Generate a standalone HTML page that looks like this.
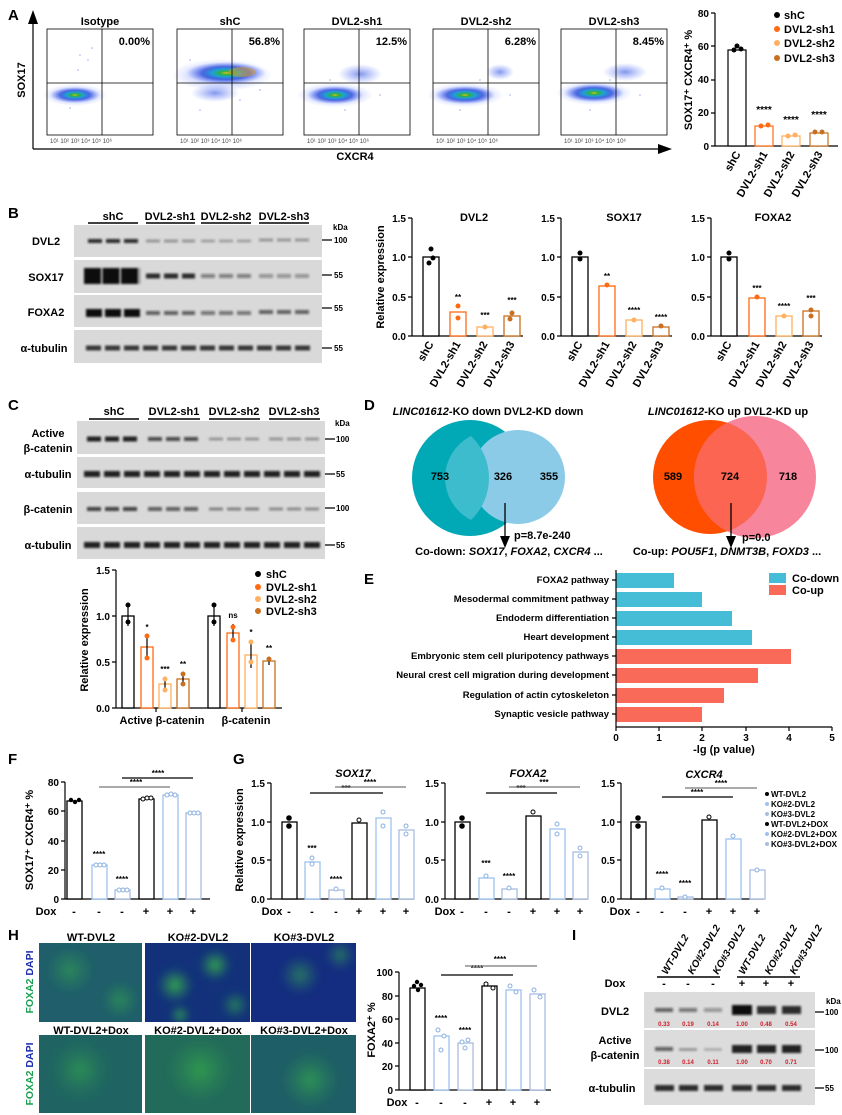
<!DOCTYPE html>
<html><head><meta charset="utf-8"><style>
body{margin:0;background:#fff}
svg{display:block;font-family:"Liberation Sans",sans-serif;font-weight:bold}
.s{font-size:10px}.m{font-size:11px}.xs{font-size:6px;font-weight:normal}.l{font-size:15px}
.ax{stroke:#000;stroke-width:1.2;fill:none}
</style></head><body>
<svg width="842" height="1115" viewBox="0 0 842 1115" xmlns="http://www.w3.org/2000/svg">
<defs>
<radialGradient id="fl"><stop offset="0" stop-color="#e0c020"/><stop offset=".15" stop-color="#30b040"/><stop offset=".35" stop-color="#1ea0d8"/><stop offset=".6" stop-color="#2848d8" stop-opacity=".75"/><stop offset="1" stop-color="#5070ff" stop-opacity="0"/></radialGradient>
<radialGradient id="fb"><stop offset="0" stop-color="#3050e0" stop-opacity=".6"/><stop offset="1" stop-color="#5070ff" stop-opacity="0"/></radialGradient>
<radialGradient id="gr"><stop offset="0" stop-color="#40d040" stop-opacity=".8"/><stop offset="1" stop-color="#30a050" stop-opacity="0"/></radialGradient>
<filter id="bl"><feGaussianBlur stdDeviation="1.1"/></filter>
<filter id="bl3"><feGaussianBlur stdDeviation="4"/></filter>
</defs>

<!-- ===== A ===== -->
<text x="8" y="20" class="l">A</text>
<line x1="33" y1="149" x2="33" y2="18" class="ax" stroke-width="1.5"/>
<polygon points="33,10 28,24 38,24"/>
<line x1="33" y1="149" x2="662" y2="149" class="ax" stroke-width="1.5"/>
<polygon points="672,149 658,144 658,154"/>
<text x="25" y="80" class="m" transform="rotate(-90 25 80)" text-anchor="middle">SOX17</text>
<text x="355" y="160" class="m" text-anchor="middle">CXCR4</text>

<g class="m" text-anchor="middle">
<text x="100" y="25">Isotype</text><text x="230" y="25">shC</text><text x="357" y="25">DVL2-sh1</text><text x="486" y="25">DVL2-sh2</text><text x="614" y="25">DVL2-sh3</text>
</g>
<g>
<ellipse cx="75" cy="95" rx="32" ry="11" fill="url(#fb)"/>
<ellipse cx="75" cy="95" rx="25" ry="8" fill="url(#fl)"/>
<ellipse cx="222" cy="75" rx="50" ry="16" fill="url(#fb)"/>
<ellipse cx="226" cy="73" rx="40" ry="11" fill="url(#fl)"/><ellipse cx="242" cy="72" rx="14" ry="5" fill="#e0a020" opacity=".5"/><ellipse cx="215" cy="93" rx="24" ry="9" fill="url(#fb)"/>
<ellipse cx="335" cy="95" rx="38" ry="12" fill="url(#fb)"/><ellipse cx="335" cy="95" rx="28" ry="9" fill="url(#fl)"/><ellipse cx="360" cy="74" rx="22" ry="10" fill="url(#fb)"/>
<ellipse cx="465" cy="95" rx="38" ry="12" fill="url(#fb)"/><ellipse cx="465" cy="95" rx="30" ry="9" fill="url(#fl)"/><ellipse cx="500" cy="72" rx="14" ry="8" fill="url(#fb)"/>
<ellipse cx="594" cy="93" rx="38" ry="12" fill="url(#fb)"/><ellipse cx="594" cy="93" rx="30" ry="9" fill="url(#fl)"/><ellipse cx="625" cy="72" rx="22" ry="9" fill="url(#fb)"/>
</g>
<g fill="#4060e0" opacity=".5">
<circle cx="80" cy="55" r=".8"/><circle cx="88" cy="60" r=".8"/><circle cx="92" cy="48" r=".8"/><circle cx="78" cy="70" r=".8"/><circle cx="70" cy="108" r=".8"/>
<circle cx="200" cy="110" r=".8"/><circle cx="240" cy="100" r=".8"/><circle cx="190" cy="60" r=".8"/><circle cx="260" cy="90" r=".8"/>
<circle cx="330" cy="80" r=".8"/><circle cx="345" cy="110" r=".8"/><circle cx="380" cy="95" r=".8"/>
<circle cx="460" cy="110" r=".8"/><circle cx="480" cy="80" r=".8"/><circle cx="510" cy="95" r=".8"/>
<circle cx="590" cy="110" r=".8"/><circle cx="610" cy="80" r=".8"/><circle cx="640" cy="95" r=".8"/>
</g>
<g fill="none" stroke="#000" stroke-width=".8">
<rect x="47" y="29" width="106" height="106"/><rect x="177" y="29" width="106" height="106"/><rect x="304" y="29" width="106" height="106"/><rect x="433" y="29" width="106" height="106"/><rect x="561" y="29" width="106" height="106"/>
<path d="M102,29V135M47,83H153M232,29V135M177,83H283M359,29V135M304,83H410M488,29V135M433,83H539M616,29V135M561,83H667"/>
</g>
<g class="m" text-anchor="end">
<text x="150" y="45">0.00%</text><text x="280" y="45">56.8%</text><text x="407" y="45">12.5%</text><text x="536" y="45">6.28%</text><text x="664" y="45">8.45%</text>
</g>
<g class="xs" fill="#444">
<text x="50" y="143">10¹ 10² 10³ 10⁴ 10⁵ 10⁶</text><text x="180" y="143">10¹ 10² 10³ 10⁴ 10⁵ 10⁶</text><text x="307" y="143">10¹ 10² 10³ 10⁴ 10⁵ 10⁶</text><text x="436" y="143">10¹ 10² 10³ 10⁴ 10⁵ 10⁶</text><text x="564" y="143">10¹ 10² 10³ 10⁴ 10⁵ 10⁶</text>
</g>
<path d="M715,13V146H838M711,13H715M711,46H715M711,80H715M711,113H715M711,146H715" class="ax"/>
<g class="s" text-anchor="end"><text x="709" y="17">80</text><text x="709" y="50">60</text><text x="709" y="83">40</text><text x="709" y="116">20</text><text x="709" y="150">0</text></g>
<text x="692" y="80" class="m" transform="rotate(-90 692 80)" text-anchor="middle">SOX17⁺ CXCR4⁺ %</text>
<rect x="728" y="50" width="18" height="96" fill="#fff" stroke="#000" stroke-width="1.2"/>
<rect x="755" y="126" width="18" height="20" fill="#fff" stroke="#ff6a13" stroke-width="1.2"/>
<rect x="782" y="136" width="18" height="10" fill="#fff" stroke="#ffb060" stroke-width="1.2"/>
<rect x="810" y="133" width="18" height="13" fill="#fff" stroke="#c87020" stroke-width="1.2"/>
<g><circle cx="734" cy="50" r="2.5"/><circle cx="741" cy="49" r="2.5"/><circle cx="737" cy="46" r="2.5"/>
<circle cx="761" cy="126" r="2.5" fill="#ff6a13"/><circle cx="768" cy="125" r="2.5" fill="#ff6a13"/>
<circle cx="788" cy="136" r="2.5" fill="#ffb060"/><circle cx="795" cy="135" r="2.5" fill="#ffb060"/>
<circle cx="815" cy="132" r="2.5" fill="#c87020"/><circle cx="822" cy="132" r="2.5" fill="#c87020"/></g>
<g class="s" text-anchor="middle"><text x="764" y="113">****</text><text x="791" y="123">****</text><text x="819" y="118">****</text></g>
<g class="m" text-anchor="end">
<text transform="translate(741,154) rotate(-60)">shC</text><text transform="translate(768,154) rotate(-60)">DVL2-sh1</text><text transform="translate(795,154) rotate(-60)">DVL2-sh2</text><text transform="translate(823,154) rotate(-60)">DVL2-sh3</text>
</g>
<g class="m"><circle cx="777" cy="15" r="3"/><text x="784" y="19">shC</text>
<circle cx="777" cy="29" r="3" fill="#ff6a13"/><text x="784" y="33">DVL2-sh1</text>
<circle cx="777" cy="43" r="3" fill="#ffb060"/><text x="784" y="47">DVL2-sh2</text>
<circle cx="777" cy="58" r="3" fill="#c87020"/><text x="784" y="62">DVL2-sh3</text></g>

<!-- ===== B ===== -->
<text x="8" y="218" class="l">B</text>
<g class="m" text-anchor="middle"><text x="113" y="220">shC</text><text x="170" y="220">DVL2-sh1</text><text x="226" y="220">DVL2-sh2</text><text x="284" y="220">DVL2-sh3</text></g>
<path d="M88,223H138M146,223H195M201,223H251M259,223H309" stroke="#000" stroke-width="1.5"/>
<g fill="#d9d9d9"><rect x="74" y="225" width="248" height="32"/><rect x="74" y="260" width="248" height="33"/><rect x="74" y="295" width="248" height="32"/><rect x="74" y="330" width="248" height="33"/></g>
<g filter="url(#bl)" stroke="#111" fill="none" stroke-dasharray="14 4">
<path d="M88,241H138" stroke-width="4" opacity=".85"/><path d="M146,241H195" stroke-width="3" opacity=".35"/><path d="M201,241H251" stroke-width="3" opacity=".25"/><path d="M259,240H309" stroke-width="3" opacity=".35"/>
<path d="M84,276H140" stroke-width="16" stroke-dasharray="17 1.5"/><path d="M146,276H195" stroke-width="5" opacity=".85"/><path d="M201,276H251" stroke-width="4" opacity=".45"/><path d="M259,276H309" stroke-width="4" opacity=".35"/>
<path d="M86,313H140" stroke-width="8" stroke-dasharray="16 3"/><path d="M146,313H195" stroke-width="4" opacity=".6"/><path d="M201,313H251" stroke-width="4" opacity=".5"/><path d="M259,312H309" stroke-width="4" opacity=".6"/>
<path d="M86,348H312" stroke-width="5" opacity=".8" stroke-dasharray="15 4"/>
</g>
<g class="m" text-anchor="middle"><text x="46" y="245">DVL2</text><text x="46" y="281">SOX17</text><text x="46" y="316">FOXA2</text><text x="44" y="352">α-tubulin</text></g>
<g class="xs" style="font-size:8px;font-weight:bold"><text x="333" y="230">kDa</text><path d="M322,240H332M322,275H332M322,308H332M322,348H332" stroke="#000" stroke-width="1.3"/>
<text x="334" y="243">100</text><text x="334" y="278">55</text><text x="334" y="311">55</text><text x="334" y="351">55</text></g>
<text x="384" y="277" class="m" transform="rotate(-90 384 277)" text-anchor="middle">Relative expression</text>
<g class="ax"><path d="M412,218V336H523M408,218H412M408,257H412M408,297H412M408,336H412"/><path d="M561,218V336H672M557,218H561M557,257H561M557,297H561M557,336H561"/><path d="M711,218V336H822M707,218H711M707,257H711M707,297H711M707,336H711"/></g>
<g class="s" text-anchor="end">
<text x="406" y="222">1.5</text><text x="406" y="261">1.0</text><text x="406" y="301">0.5</text><text x="406" y="340">0.0</text>
<text x="555" y="222">1.5</text><text x="555" y="261">1.0</text><text x="555" y="301">0.5</text><text x="555" y="340">0.0</text>
<text x="705" y="222">1.5</text><text x="705" y="261">1.0</text><text x="705" y="301">0.5</text><text x="705" y="340">0.0</text>
</g>
<g class="m" text-anchor="middle"><text x="474" y="221">DVL2</text><text x="624" y="221">SOX17</text><text x="773" y="221">FOXA2</text></g>
<g fill="#fff" stroke-width="1.3">
<rect x="423" y="257" width="16" height="79" stroke="#000"/><rect x="450" y="312" width="16" height="24" stroke="#ff6a13"/><rect x="477" y="327" width="16" height="9" stroke="#ffb060"/><rect x="504" y="316" width="16" height="20" stroke="#c87020"/>
<rect x="572" y="257" width="16" height="79" stroke="#000"/><rect x="599" y="286" width="16" height="50" stroke="#ff6a13"/><rect x="626" y="320" width="16" height="16" stroke="#ffb060"/><rect x="653" y="327" width="16" height="9" stroke="#c87020"/>
<rect x="721" y="257" width="16" height="79" stroke="#000"/><rect x="749" y="298" width="16" height="38" stroke="#ff6a13"/><rect x="776" y="316" width="16" height="20" stroke="#ffb060"/><rect x="803" y="311" width="16" height="25" stroke="#c87020"/>
</g>
<g>
<circle cx="431" cy="249" r="2.5"/><circle cx="429" cy="263" r="2.5"/><circle cx="433" cy="258" r="2.5"/>
<circle cx="458" cy="306" r="2.5" fill="#ff6a13"/><circle cx="458" cy="318" r="2.5" fill="#ff6a13"/><circle cx="485" cy="327" r="2.5" fill="#ffb060"/><circle cx="512" cy="313" r="2.5" fill="#c87020"/><circle cx="510" cy="319" r="2.5" fill="#c87020"/>
<circle cx="580" cy="253" r="2.5"/><circle cx="580" cy="259" r="2.5"/><circle cx="607" cy="285" r="2.5" fill="#ff6a13"/><circle cx="634" cy="320" r="2.5" fill="#ffb060"/><circle cx="661" cy="326" r="2.5" fill="#c87020"/>
<circle cx="729" cy="253" r="2.5"/><circle cx="729" cy="259" r="2.5"/><circle cx="757" cy="297" r="2.5" fill="#ff6a13"/><circle cx="784" cy="316" r="2.5" fill="#ffb060"/><circle cx="811" cy="310" r="2.5" fill="#c87020"/><circle cx="811" cy="316" r="2.5" fill="#c87020"/>
</g>
<g style="font-size:8px" text-anchor="middle">
<text x="458" y="300">**</text><text x="485" y="318">***</text><text x="512" y="303">***</text>
<text x="607" y="279">**</text><text x="634" y="313">****</text><text x="661" y="320">****</text>
<text x="757" y="291">***</text><text x="784" y="309">****</text><text x="811" y="301">***</text>
</g>
<g class="m" text-anchor="end">
<text transform="translate(434,344) rotate(-60)">shC</text><text transform="translate(461,344) rotate(-60)">DVL2-sh1</text><text transform="translate(488,344) rotate(-60)">DVL2-sh2</text><text transform="translate(515,344) rotate(-60)">DVL2-sh3</text>
<text transform="translate(583,344) rotate(-60)">shC</text><text transform="translate(610,344) rotate(-60)">DVL2-sh1</text><text transform="translate(637,344) rotate(-60)">DVL2-sh2</text><text transform="translate(664,344) rotate(-60)">DVL2-sh3</text>
<text transform="translate(732,344) rotate(-60)">shC</text><text transform="translate(760,344) rotate(-60)">DVL2-sh1</text><text transform="translate(787,344) rotate(-60)">DVL2-sh2</text><text transform="translate(814,344) rotate(-60)">DVL2-sh3</text>
</g>

<!-- ===== C ===== -->
<text x="8" y="410" class="l">C</text>
<g class="m" text-anchor="middle"><text x="114" y="415">shC</text><text x="174" y="415">DVL2-sh1</text><text x="234" y="415">DVL2-sh2</text><text x="294" y="415">DVL2-sh3</text></g>
<path d="M89,419H139M148,419H200M209,419H260M269,419H320" stroke="#000" stroke-width="1.5"/>
<g fill="#d9d9d9"><rect x="77" y="421" width="248" height="33"/><rect x="77" y="457" width="248" height="31"/><rect x="77" y="492" width="248" height="32"/><rect x="77" y="527" width="248" height="32"/></g>
<g filter="url(#bl)" stroke="#111" fill="none" stroke-dasharray="14 4">
<path d="M87,439H139" stroke-width="5" opacity=".9"/><path d="M148,439H200" stroke-width="4" opacity=".7"/><path d="M209,439H260" stroke-width="3" opacity=".3"/><path d="M269,439H320" stroke-width="3" opacity=".35"/>
<path d="M84,474H323" stroke-width="6" opacity=".9" stroke-dasharray="16 4"/>
<path d="M87,509H139" stroke-width="4" opacity=".75"/><path d="M148,509H200" stroke-width="4" opacity=".6"/><path d="M209,509H260" stroke-width="3" opacity=".45"/><path d="M269,509H320" stroke-width="3" opacity=".4"/>
<path d="M84,545H323" stroke-width="6" opacity=".9" stroke-dasharray="16 4"/>
</g>
<g class="m" text-anchor="middle"><text x="48" y="437">Active</text><text x="48" y="452">β-catenin</text><text x="48" y="478">α-tubulin</text><text x="48" y="513">β-catenin</text><text x="48" y="549">α-tubulin</text></g>
<g style="font-size:8px"><text x="335" y="426">kDa</text><path d="M325,439H335M325,474H335M325,508H335M325,545H335" stroke="#000" stroke-width="1.3"/>
<text x="336" y="442">100</text><text x="336" y="477">55</text><text x="336" y="511">100</text><text x="336" y="548">55</text></g>
<path d="M116,570V708H282M112,570H116M112,616H116M112,662H116M112,708H116M156,708V712M242,708V712" class="ax"/>
<g class="s" text-anchor="end"><text x="110" y="574">1.5</text><text x="110" y="620">1.0</text><text x="110" y="666">0.5</text><text x="110" y="712">0.0</text></g>
<text x="88" y="640" class="m" transform="rotate(-90 88 640)" text-anchor="middle">Relative expression</text>
<g fill="#fff" stroke-width="1.3">
<rect x="122" y="616" width="12" height="92" stroke="#000"/><rect x="141" y="647" width="12" height="61" stroke="#ff6a13"/><rect x="159" y="684" width="12" height="24" stroke="#ffb060"/><rect x="177" y="679" width="12" height="29" stroke="#c87020"/>
<rect x="208" y="616" width="12" height="92" stroke="#000"/><rect x="227" y="633" width="12" height="75" stroke="#ff6a13"/><rect x="245" y="655" width="12" height="53" stroke="#ffb060"/><rect x="263" y="661" width="12" height="47" stroke="#c87020"/>
</g>
<g stroke-width="1.2" fill="none">
<path d="M128,605V626M147,635V659M165,678V690M183,672V686M214,605V626M233,624V642M251,641V668M269,657V665" stroke="#000"/>
</g>
<g>
<circle cx="128" cy="605" r="2.5"/><circle cx="128" cy="622" r="2.5"/><circle cx="147" cy="636" r="2.5" fill="#ff6a13"/><circle cx="147" cy="658" r="2.5" fill="#ff6a13"/><circle cx="165" cy="679" r="2.5" fill="#ffb060"/><circle cx="165" cy="690" r="2.5" fill="#ffb060"/><circle cx="183" cy="674" r="2.5" fill="#c87020"/><circle cx="183" cy="684" r="2.5" fill="#c87020"/>
<circle cx="214" cy="605" r="2.5"/><circle cx="214" cy="622" r="2.5"/><circle cx="233" cy="627" r="2.5" fill="#ff6a13"/><circle cx="233" cy="640" r="2.5" fill="#ff6a13"/><circle cx="251" cy="642" r="2.5" fill="#ffb060"/><circle cx="251" cy="662" r="2.5" fill="#ffb060"/><circle cx="269" cy="659" r="2.5" fill="#c87020"/>
</g>
<g style="font-size:8px" text-anchor="middle"><text x="147" y="630">*</text><text x="165" y="672">***</text><text x="183" y="667">**</text><text x="233" y="618">ns</text><text x="251" y="635">*</text><text x="269" y="651">**</text></g>
<g class="m" text-anchor="middle"><text x="162" y="724">Active β-catenin</text><text x="246" y="724">β-catenin</text></g>
<g class="m"><circle cx="258" cy="574" r="3"/><text x="266" y="578">shC</text>
<circle cx="258" cy="587" r="3" fill="#ff6a13"/><text x="266" y="591">DVL2-sh1</text>
<circle cx="258" cy="599" r="3" fill="#ffb060"/><text x="266" y="603">DVL2-sh2</text>
<circle cx="258" cy="611" r="3" fill="#c87020"/><text x="266" y="615">DVL2-sh3</text></g>

<!-- ===== D ===== -->
<text x="364" y="410" class="l">D</text>
<circle cx="470" cy="478" r="58" fill="#00a9b5"/>
<circle cx="518" cy="477" r="47" fill="#8ccbe8"/>
<path d="M471,436 A58,58 0 0 1 471,520 A47,47 0 0 1 471,436Z" fill="#3cbccd"/>
<g class="m" text-anchor="middle"><text x="440" y="480">753</text><text x="503" y="480">326</text><text x="549" y="480">355</text></g>
<text x="488" y="415" class="m" text-anchor="middle"><tspan font-style="italic">LINC01612</tspan>-KO down  DVL2-KD down</text>
<path d="M505,503V540" stroke="#000" stroke-width="1.3"/><polygon points="505,548 500,536 510,536"/>
<text x="514" y="539" class="m">p=8.7e-240</text>
<text x="509" y="555" class="m" text-anchor="middle">Co-down: <tspan font-style="italic">SOX17</tspan>, <tspan font-style="italic">FOXA2</tspan>, <tspan font-style="italic">CXCR4</tspan> ...</text>
<circle cx="710" cy="477" r="57" fill="#ff4e00"/>
<circle cx="755" cy="477" r="61" fill="#f7869c"/>
<clipPath id="cp"><circle cx="710" cy="477" r="57"/></clipPath>
<circle cx="755" cy="477" r="61" fill="#fb6552" clip-path="url(#cp)"/>
<g class="m" text-anchor="middle"><text x="673" y="480">589</text><text x="730" y="480">724</text><text x="788" y="480">718</text></g>
<text x="728" y="415" class="m" text-anchor="middle"><tspan font-style="italic">LINC01612</tspan>-KO up  DVL2-KD up</text>
<path d="M731,503V540" stroke="#000" stroke-width="1.3"/><polygon points="731,548 726,536 736,536"/>
<text x="742" y="541" class="m">p=0.0</text>
<text x="727" y="555" class="m" text-anchor="middle">Co-up: <tspan font-style="italic">POU5F1</tspan>, <tspan font-style="italic">DNMT3B</tspan>, <tspan font-style="italic">FOXD3</tspan> ...</text>

<!-- ===== E ===== -->
<text x="364" y="584" class="l">E</text>
<g fill="#45bdd6"><rect x="616" y="573" width="58" height="15"/><rect x="616" y="592" width="86" height="15"/><rect x="616" y="611" width="116" height="15"/><rect x="616" y="630" width="136" height="15"/></g>
<g fill="#f96a58"><rect x="616" y="649" width="175" height="15"/><rect x="616" y="668" width="142" height="15"/><rect x="616" y="688" width="108" height="15"/><rect x="616" y="707" width="86" height="15"/></g>
<path d="M616,570V727H832M616,727V731M659,727V731M702,727V731M746,727V731M789,727V731M832,727V731M612,580H616M612,599H616M612,618H616M612,637H616M612,656H616M612,675H616M612,695H616M612,714H616" class="ax"/>
<g class="s" text-anchor="middle"><text x="616" y="741">0</text><text x="659" y="741">1</text><text x="702" y="741">2</text><text x="746" y="741">3</text><text x="789" y="741">4</text><text x="832" y="741">5</text></g>
<text x="724" y="753" class="m" text-anchor="middle">-lg (p value)</text>
<g class="s" text-anchor="end" style="font-size:9.5px">
<text x="609" y="583">FOXA2 pathway</text><text x="609" y="602">Mesodermal commitment pathway</text><text x="609" y="621">Endoderm differentiation</text><text x="609" y="640">Heart development</text><text x="609" y="659">Embryonic stem cell pluripotency pathways</text><text x="609" y="678">Neural crest cell migration during development</text><text x="609" y="698">Regulation of actin cytoskeleton</text><text x="609" y="717">Synaptic vesicle pathway</text>
</g>
<rect x="769" y="573" width="17" height="10" fill="#45bdd6"/><rect x="769" y="585" width="17" height="10" fill="#f96a58"/>
<g class="m"><text x="792" y="582">Co-down</text><text x="792" y="594">Co-up</text></g>

<!-- ===== F ===== -->
<text x="8" y="764" class="l">F</text>
<path d="M65,782V899H210M61,782H65M61,811H65M61,841H65M61,870H65M61,899H65" class="ax"/>
<g class="s" text-anchor="end"><text x="59" y="786">80</text><text x="59" y="815">60</text><text x="59" y="845">40</text><text x="59" y="874">20</text><text x="59" y="903">0</text></g>
<text x="33" y="840" class="m" transform="rotate(-90 33 840)" text-anchor="middle">SOX17⁺ CXCR4⁺ %</text>
<g fill="#fff" stroke-width="1.3">
<rect x="67" y="801" width="15" height="98" stroke="#000"/><rect x="92" y="865" width="15" height="34" stroke="#9dc3ee"/><rect x="115" y="890" width="15" height="9" stroke="#a9bde0"/>
<rect x="139" y="799" width="15" height="100" stroke="#000"/><rect x="163" y="795" width="15" height="104" stroke="#9dc3ee"/><rect x="186" y="813" width="15" height="86" stroke="#a9bde0"/>
</g>
<g><circle cx="71" cy="800" r="2.2"/><circle cx="75" cy="802" r="2.2"/><circle cx="79" cy="800" r="2.2"/>
<g fill="#fff" stroke="#8ab0e0"><circle cx="96" cy="865" r="2"/><circle cx="100" cy="865" r="2"/><circle cx="104" cy="865" r="2"/><circle cx="119" cy="890" r="2"/><circle cx="123" cy="890" r="2"/><circle cx="127" cy="890" r="2"/><circle cx="143" cy="799" r="2" stroke="#000"/><circle cx="147" cy="798" r="2" stroke="#000"/><circle cx="151" cy="798" r="2" stroke="#000"/><circle cx="167" cy="795" r="2"/><circle cx="171" cy="794" r="2"/><circle cx="175" cy="795" r="2"/><circle cx="190" cy="813" r="2"/><circle cx="194" cy="813" r="2"/><circle cx="198" cy="813" r="2"/></g></g>
<g style="font-size:8px" text-anchor="middle"><text x="99" y="857">****</text><text x="122" y="882">****</text><text x="136" y="785">****</text><text x="158" y="776">****</text></g>
<path d="M99,787H170" stroke="#777" stroke-width="1.2"/><path d="M122,778H193" stroke="#000" stroke-width="1.2"/>
<g class="m" text-anchor="middle"><text x="46" y="915">Dox</text><text x="74" y="915">-</text><text x="99" y="915">-</text><text x="122" y="915">-</text><text x="146" y="915">+</text><text x="170" y="915">+</text><text x="193" y="915">+</text></g>

<!-- ===== G ===== -->
<text x="233" y="764" class="l">G</text>
<text x="243" y="840" class="m" transform="rotate(-90 243 840)" text-anchor="middle">Relative expression</text>
<g class="ax"><path d="M271,783V899H414M267,783H271M267,822H271M267,860H271M267,899H271"/><path d="M445,783V899H588M441,783H445M441,822H445M441,860H445M441,899H445"/><path d="M621,783V899H764M617,783H621M617,822H621M617,860H621M617,899H621"/></g>
<g class="s" text-anchor="end">
<text x="265" y="787">1.5</text><text x="265" y="826">1.0</text><text x="265" y="864">0.5</text><text x="265" y="903">0.0</text>
<text x="439" y="787">1.5</text><text x="439" y="826">1.0</text><text x="439" y="864">0.5</text><text x="439" y="903">0.0</text>
<text x="615" y="787">1.5</text><text x="615" y="826">1.0</text><text x="615" y="864">0.5</text><text x="615" y="903">0.0</text>
</g>
<g class="m" text-anchor="middle" font-style="italic"><text x="353" y="777">SOX17</text><text x="528" y="777">FOXA2</text><text x="704" y="778">CXCR4</text></g>
<g fill="#fff" stroke-width="1.3">
<rect x="282" y="822" width="15" height="77" stroke="#000"/><rect x="305" y="862" width="15" height="37" stroke="#9dc3ee"/><rect x="329" y="890" width="15" height="9" stroke="#a9bde0"/><rect x="352" y="823" width="15" height="76" stroke="#000"/><rect x="376" y="818" width="15" height="81" stroke="#9dc3ee"/><rect x="399" y="830" width="15" height="69" stroke="#a9bde0"/>
<rect x="455" y="822" width="15" height="77" stroke="#000"/><rect x="479" y="878" width="15" height="21" stroke="#9dc3ee"/><rect x="502" y="889" width="15" height="10" stroke="#a9bde0"/><rect x="526" y="816" width="15" height="83" stroke="#000"/><rect x="550" y="829" width="15" height="70" stroke="#9dc3ee"/><rect x="573" y="852" width="15" height="47" stroke="#a9bde0"/>
<rect x="631" y="822" width="15" height="77" stroke="#000"/><rect x="655" y="889" width="15" height="10" stroke="#9dc3ee"/><rect x="678" y="897" width="15" height="2" stroke="#a9bde0"/><rect x="702" y="820" width="15" height="79" stroke="#000"/><rect x="726" y="839" width="15" height="60" stroke="#9dc3ee"/><rect x="750" y="870" width="15" height="29" stroke="#a9bde0"/>
</g>
<g fill="#fff" stroke="#8ab0e0">
<circle cx="289" cy="818" r="2.3" fill="#000" stroke="#000"/><circle cx="289" cy="826" r="2.3" fill="#000" stroke="#000"/><circle cx="312" cy="858" r="2"/><circle cx="312" cy="864" r="2"/><circle cx="336" cy="889" r="2"/><circle cx="359" cy="820" r="2" stroke="#000"/><circle cx="383" cy="812" r="2"/><circle cx="383" cy="826" r="2"/><circle cx="406" cy="826" r="2"/><circle cx="406" cy="834" r="2"/>
<circle cx="462" cy="818" r="2.3" fill="#000" stroke="#000"/><circle cx="462" cy="826" r="2.3" fill="#000" stroke="#000"/><circle cx="486" cy="876" r="2"/><circle cx="509" cy="888" r="2"/><circle cx="533" cy="812" r="2" stroke="#000"/><circle cx="557" cy="824" r="2"/><circle cx="557" cy="834" r="2"/><circle cx="580" cy="848" r="2"/><circle cx="580" cy="856" r="2"/>
<circle cx="638" cy="818" r="2.3" fill="#000" stroke="#000"/><circle cx="638" cy="826" r="2.3" fill="#000" stroke="#000"/><circle cx="662" cy="888" r="2"/><circle cx="685" cy="897" r="2"/><circle cx="709" cy="817" r="2" stroke="#000"/><circle cx="733" cy="836" r="2"/><circle cx="757" cy="870" r="2"/>
</g>
<g style="font-size:8px" text-anchor="middle">
<text x="312" y="851">***</text><text x="336" y="882">****</text><text x="346" y="791">***</text><text x="370" y="785">****</text>
<text x="486" y="866">***</text><text x="509" y="879">****</text><text x="521" y="791">***</text><text x="544" y="785">***</text>
<text x="662" y="877">****</text><text x="685" y="886">****</text><text x="697" y="795">****</text><text x="721" y="786">****</text>
</g>
<g stroke-width="1.2"><path d="M310,793H383M486,793H557M662,797H733" stroke="#000"/><path d="M335,787H406M509,787H580M685,788H757" stroke="#777"/></g>
<g class="m" text-anchor="middle">
<text x="272" y="915">Dox</text><text x="289" y="915">-</text><text x="312" y="915">-</text><text x="336" y="915">-</text><text x="359" y="915">+</text><text x="383" y="915">+</text><text x="406" y="915">+</text>
<text x="445" y="915">Dox</text><text x="462" y="915">-</text><text x="486" y="915">-</text><text x="509" y="915">-</text><text x="533" y="915">+</text><text x="557" y="915">+</text><text x="580" y="915">+</text>
<text x="620" y="915">Dox</text><text x="638" y="915">-</text><text x="662" y="915">-</text><text x="685" y="915">-</text><text x="709" y="915">+</text><text x="733" y="915">+</text><text x="757" y="915">+</text>
</g>
<g style="font-size:8px">
<circle cx="767" cy="794" r="2"/><text x="771" y="797">WT-DVL2</text>
<circle cx="767" cy="804" r="2" fill="#9dc3ee"/><text x="771" y="807">KO#2-DVL2</text>
<circle cx="767" cy="814" r="2" fill="#a9bde0"/><text x="771" y="817">KO#3-DVL2</text>
<circle cx="767" cy="824" r="2"/><text x="771" y="827">WT-DVL2+DOX</text>
<circle cx="767" cy="834" r="2" fill="#9dc3ee"/><text x="771" y="837">KO#2-DVL2+DOX</text>
<circle cx="767" cy="844" r="2" fill="#a9bde0"/><text x="771" y="847">KO#3-DVL2+DOX</text>
</g>

<!-- ===== H ===== -->
<text x="8" y="940" class="l">H</text>
<g class="m" text-anchor="middle"><text x="91" y="941">WT-DVL2</text><text x="198" y="941">KO#2-DVL2</text><text x="304" y="941">KO#3-DVL2</text>
<text x="91" y="1034">WT-DVL2+Dox</text><text x="198" y="1034">KO#2-DVL2+Dox</text><text x="304" y="1034">KO#3-DVL2+Dox</text></g>
<clipPath id="c1"><rect x="39" y="943" width="103" height="79"/><rect x="145" y="943" width="105" height="79"/><rect x="251" y="943" width="105" height="79"/><rect x="39" y="1035" width="103" height="78"/><rect x="145" y="1035" width="105" height="78"/><rect x="251" y="1035" width="105" height="78"/></clipPath>
<g clip-path="url(#c1)">
<rect x="39" y="943" width="103" height="79" fill="#1f5e6a"/><rect x="145" y="943" width="105" height="79" fill="#12317a"/><rect x="251" y="943" width="105" height="79" fill="#142d80"/>
<rect x="39" y="1035" width="103" height="78" fill="#1f6462"/><rect x="145" y="1035" width="105" height="78" fill="#226a5a"/><rect x="251" y="1035" width="105" height="78" fill="#1e5e66"/>
<g filter="url(#bl3)">
<circle cx="70" cy="970" r="25" fill="url(#gr)" opacity=".5"/><circle cx="120" cy="1000" r="20" fill="url(#gr)" opacity=".5"/>
<circle cx="175" cy="985" r="18" fill="url(#gr)"/><circle cx="215" cy="965" r="16" fill="url(#gr)"/><circle cx="180" cy="1015" r="10" fill="url(#gr)"/><circle cx="235" cy="1005" r="14" fill="url(#gr)" opacity=".7"/>
<circle cx="300" cy="975" r="20" fill="url(#gr)" opacity=".6"/><circle cx="340" cy="955" r="15" fill="url(#gr)" opacity=".6"/>
<circle cx="80" cy="1070" r="30" fill="url(#gr)" opacity=".5"/><circle cx="200" cy="1070" r="35" fill="url(#gr)" opacity=".6"/><circle cx="310" cy="1080" r="30" fill="url(#gr)" opacity=".6"/>
</g>
</g>
<g class="m" text-anchor="middle" style="font-size:10.5px">
<text transform="translate(33,982) rotate(-90)"><tspan fill="#1aa050">FOXA2</tspan> <tspan fill="#1a2ab0">DAPI</tspan></text>
<text transform="translate(33,1074) rotate(-90)"><tspan fill="#1aa050">FOXA2</tspan> <tspan fill="#1a2ab0">DAPI</tspan></text>
</g>
<path d="M399,972V1090H551M395,972H399M395,996H399M395,1019H399M395,1043H399M395,1066H399M395,1090H399" class="ax"/>
<g class="s" text-anchor="end"><text x="393" y="976">100</text><text x="393" y="1000">80</text><text x="393" y="1023">60</text><text x="393" y="1047">40</text><text x="393" y="1070">20</text><text x="393" y="1094">0</text></g>
<text x="375" y="1030" class="m" transform="rotate(-90 375 1030)" text-anchor="middle">FOXA2⁺ %</text>
<g fill="#fff" stroke-width="1.3">
<rect x="410" y="988" width="15" height="102" stroke="#000"/><rect x="434" y="1036" width="15" height="54" stroke="#9dc3ee"/><rect x="458" y="1043" width="15" height="47" stroke="#a9bde0"/>
<rect x="482" y="986" width="15" height="104" stroke="#000"/><rect x="506" y="990" width="15" height="100" stroke="#9dc3ee"/><rect x="530" y="994" width="15" height="96" stroke="#a9bde0"/>
</g>
<g><circle cx="414" cy="986" r="2.2"/><circle cx="418" cy="990" r="2.2"/><circle cx="421" cy="985" r="2.2"/><circle cx="417" cy="982" r="2.2"/>
<g fill="#fff" stroke="#8ab0e0"><circle cx="438" cy="1030" r="2"/><circle cx="444" cy="1036" r="2"/><circle cx="441" cy="1050" r="2"/><circle cx="462" cy="1042" r="2"/><circle cx="468" cy="1040" r="2"/><circle cx="465" cy="1048" r="2"/><circle cx="486" cy="984" r="2" stroke="#000"/><circle cx="493" cy="988" r="2" stroke="#000"/><circle cx="510" cy="986" r="2"/><circle cx="516" cy="992" r="2"/><circle cx="534" cy="990" r="2"/><circle cx="540" cy="997" r="2"/></g></g>
<g style="font-size:8px" text-anchor="middle"><text x="441" y="1021">****</text><text x="465" y="1033">****</text><text x="477" y="971">****</text><text x="500" y="962">****</text></g>
<path d="M441,975H513" stroke="#000" stroke-width="1.2"/><path d="M465,966H537" stroke="#777" stroke-width="1.2"/>
<g class="m" text-anchor="middle"><text x="397" y="1106">Dox</text><text x="417" y="1106">-</text><text x="441" y="1106">-</text><text x="465" y="1106">-</text><text x="489" y="1106">+</text><text x="513" y="1106">+</text><text x="537" y="1106">+</text></g>

<!-- ===== I ===== -->
<text x="572" y="940" class="l">I</text>
<g class="s" text-anchor="start" font-style="italic">
<text transform="translate(667,975) rotate(-60)">WT-DVL2</text><text transform="translate(693,975) rotate(-60)">KO#2-DVL2</text><text transform="translate(718,975) rotate(-60)">KO#3-DVL2</text>
<text transform="translate(744,975) rotate(-60)">WT-DVL2</text><text transform="translate(770,975) rotate(-60)">KO#2-DVL2</text><text transform="translate(795,975) rotate(-60)">KO#3-DVL2</text>
</g>
<path d="M657,977H720M737,977H800" stroke="#000" stroke-width="1.5"/>
<g class="m" text-anchor="middle"><text x="615" y="987">Dox</text><text x="664" y="987">-</text><text x="688" y="987">-</text><text x="713" y="987">-</text><text x="742" y="987">+</text><text x="766" y="987">+</text><text x="791" y="987">+</text></g>
<g fill="#dcdcdc"><rect x="644" y="992" width="171" height="36"/><rect x="644" y="1030" width="171" height="37"/><rect x="644" y="1069" width="171" height="36"/></g>
<g filter="url(#bl)" fill="#111">
<rect x="655" y="1008" width="18" height="4" opacity=".6"/><rect x="679" y="1008" width="18" height="4" opacity=".5"/><rect x="704" y="1008" width="18" height="4" opacity=".35"/><rect x="732" y="1005" width="20" height="10"/><rect x="757" y="1006" width="19" height="8" opacity=".85"/><rect x="782" y="1006" width="19" height="8" opacity=".85"/>
<rect x="655" y="1047" width="18" height="4" opacity=".6"/><rect x="679" y="1048" width="18" height="3" opacity=".3"/><rect x="704" y="1048" width="18" height="3" opacity=".2"/><rect x="732" y="1045" width="20" height="8" opacity=".9"/><rect x="757" y="1045" width="19" height="8" opacity=".9"/><rect x="782" y="1045" width="19" height="8" opacity=".9"/>
<rect x="655" y="1085" width="19" height="6" opacity=".85"/><rect x="679" y="1085" width="19" height="6" opacity=".85"/><rect x="704" y="1085" width="19" height="6" opacity=".85"/><rect x="732" y="1085" width="20" height="6" opacity=".85"/><rect x="757" y="1085" width="19" height="6" opacity=".85"/><rect x="782" y="1085" width="19" height="6" opacity=".85"/>
</g>
<g fill="#d0202a" style="font-size:6px" text-anchor="middle">
<text x="664" y="1026">0.33</text><text x="688" y="1026">0.19</text><text x="713" y="1026">0.14</text><text x="742" y="1026">1.00</text><text x="766" y="1026">0.48</text><text x="791" y="1026">0.54</text>
<text x="664" y="1064">0.38</text><text x="688" y="1064">0.14</text><text x="713" y="1064">0.11</text><text x="742" y="1064">1.00</text><text x="766" y="1064">0.70</text><text x="791" y="1064">0.71</text>
</g>
<g class="m" text-anchor="middle"><text x="615" y="1015">DVL2</text><text x="615" y="1044">Active</text><text x="615" y="1059">β-catenin</text><text x="612" y="1092">α-tubulin</text></g>
<g style="font-size:8px"><text x="826" y="1004">kDa</text><path d="M815,1012H824M815,1050H824M815,1088H824" stroke="#000" stroke-width="1.3"/>
<text x="825" y="1015">100</text><text x="825" y="1053">100</text><text x="825" y="1091">55</text></g>
</svg>
</body></html>
